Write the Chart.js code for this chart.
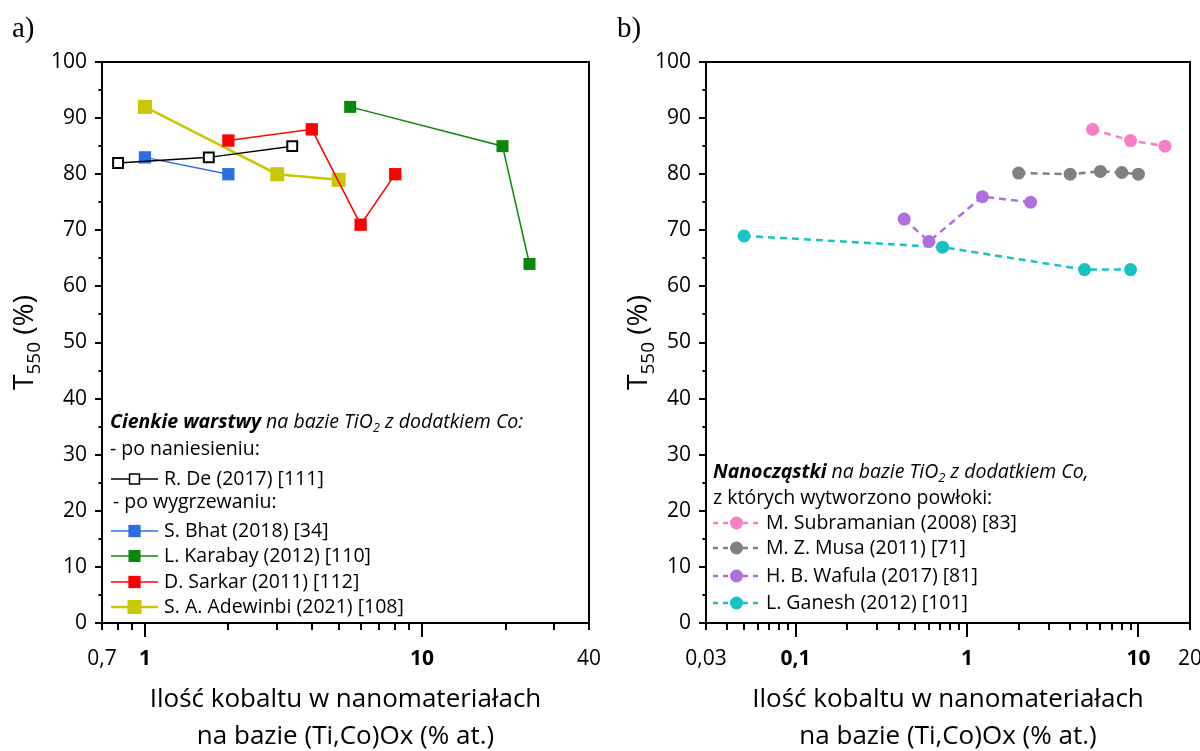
<!DOCTYPE html>
<html><head><meta charset="utf-8">
<script src="https://cdn.jsdelivr.net/npm/chart.js@4/dist/chart.umd.min.js"></script>
<style>
body{margin:0;background:#fff;width:1200px;height:751px;position:relative;overflow:hidden}
canvas{position:absolute;top:0}
</style></head>
<body>
<canvas id="ca" width="600" height="751" style="left:0"></canvas>
<canvas id="cb" width="600" height="751" style="left:600px"></canvas>
<script>
// ---------- Panel a) : thin films ----------
const deX  = [0.8, 1.7, 3.4];        const deY  = [82, 83, 85];
const bhatX = [1, 2];                const bhatY = [83, 80];
const karX = [5.5, 19.5, 24.4];      const karY = [92, 85, 64];
const sarX = [2, 4, 6, 8];           const sarY = [86, 88, 71, 80];
const adeX = [1, 3, 5];              const adeY = [92, 80, 79];
const aLabels = ['R. De (2017) [111]', 'S. Bhat (2018) [34]', 'L. Karabay (2012) [110]', 'D. Sarkar (2011) [112]', 'S. A. Adewinbi (2021) [108]'];

// ---------- Panel b) : nanoparticles ----------
const subX = [5.4, 9, 14.3];         const subY = [88, 86, 85];
const musX = [2, 4, 6, 8, 10];       const musY = [80.2, 80, 80.5, 80.3, 80];
const wafX = [0.43, 0.6, 1.23, 2.35]; const wafY = [72, 68, 76, 75];
const ganX = [0.05, 0.72, 4.85, 9];  const ganY = [69, 67, 63, 63];
const bLabels = ['M. Subramanian (2008) [83]', 'M. Z. Musa (2011) [71]', 'H. B. Wafula (2017) [81]', 'L. Ganesh (2012) [101]'];

// ---------- ticks ----------
const aXTickLabels = [0.7, 1, 10, 40];
const aXBold = [1, 10];
const aXMajor = [1, 10];
const aXMinor = [0.7, 0.8, 0.9, 2, 3, 4, 5, 6, 7, 8, 9, 20, 30, 40];
const bXTickLabels = [0.03, 0.1, 1, 10, 20];
const bXBold = [0.1, 1, 10];
const bXMajor = [0.1, 1, 10];
const bXMinor = [0.03, 0.04, 0.05, 0.06, 0.07, 0.08, 0.09, 0.2, 0.3, 0.4, 0.5, 0.6, 0.7, 0.8, 0.9, 2, 3, 4, 5, 6, 7, 8, 9, 20];
const yMajor = [0, 10, 20, 30, 40, 50, 60, 70, 80, 90, 100];
const yMinor = [5, 15, 25, 35, 45, 55, 65, 75, 85, 95];

const FONT = "'Open Sans'";
const LEG = 19.5;
const pts = (xs, ys) => xs.map((x, i) => ({x: x, y: ys[i]}));
const fmt = v => String(v).replace('.', ',');

function sq(label, xs, ys, color, r, lw) {
  return {label, data: pts(xs, ys), borderColor: color, backgroundColor: color,
    pointBackgroundColor: color, pointBorderColor: color, pointBorderWidth: 0,
    pointStyle: 'rect', pointRadius: r, borderWidth: lw, tension: 0};
}
function circ(label, xs, ys, color) {
  return {label, data: pts(xs, ys), borderColor: color, backgroundColor: color,
    pointBackgroundColor: color, pointBorderWidth: 0, pointStyle: 'circle',
    pointRadius: 6.5, borderWidth: 2.5, borderDash: [7, 5], tension: 0};
}

const decor = {
  id: 'decor',
  afterDraw(chart, args, o) {
    const ctx = chart.ctx, ca = chart.chartArea, xs = chart.scales.x, ys = chart.scales.y;
    ctx.save();
    ctx.strokeStyle = '#000'; ctx.lineWidth = 2; ctx.lineCap = 'butt';
    ctx.strokeRect(ca.left, ca.top, ca.right - ca.left, ca.bottom - ca.top);
    ctx.beginPath();
    yMajor.forEach(v => { const p = Math.round(ys.getPixelForValue(v)); ctx.moveTo(ca.left, p); ctx.lineTo(ca.left - 7, p); });
    yMinor.forEach(v => { const p = Math.round(ys.getPixelForValue(v)); ctx.moveTo(ca.left, p); ctx.lineTo(ca.left - 3.5, p); });
    o.xMajor.forEach(v => { const p = Math.round(xs.getPixelForValue(v)); ctx.moveTo(p, ca.bottom); ctx.lineTo(p, ca.bottom + 14); });
    o.xMinor.forEach(v => { const p = Math.round(xs.getPixelForValue(v)); ctx.moveTo(p, ca.bottom); ctx.lineTo(p, ca.bottom + 7); });
    ctx.stroke();

    // panel letter
    ctx.fillStyle = '#000';
    ctx.font = "29px 'Liberation Serif'";
    ctx.textBaseline = 'alphabetic'; ctx.textAlign = 'left';
    ctx.fillText(o.letter, o.letterX, 37);

    // x title
    ctx.font = '26px ' + FONT; ctx.textAlign = 'center'; ctx.textBaseline = 'middle';
    const cx = (ca.left + ca.right) / 2;
    ctx.fillText('Ilość kobaltu w nanomateriałach', cx, 700);
    ctx.fillText('na bazie (Ti,Co)Ox (% at.)', cx, 737);

    // y title (rotated)
    ctx.save();
    ctx.translate(ca.left - o.yTitleOff, (ca.top + ca.bottom) / 2);
    ctx.rotate(-Math.PI / 2);
    const parts = [{t: 'T', f: '28px ' + FONT, dy: 0}, {t: '550', f: '19px ' + FONT, dy: 7}, {t: ' (%)', f: '28px ' + FONT, dy: 0}];
    let w = 0; parts.forEach(p => { ctx.font = p.f; w += ctx.measureText(p.t).width; });
    let x = -w / 2; ctx.textAlign = 'left'; ctx.textBaseline = 'alphabetic';
    parts.forEach(p => { ctx.font = p.f; ctx.fillText(p.t, x, 10 + p.dy); x += ctx.measureText(p.t).width; });
    ctx.restore();

    // legend
    const L = o.legend;
    L.rows.forEach(row => {
      if (row.segs) {
        let tx = row.x;
        ctx.textAlign = 'left'; ctx.textBaseline = 'middle';
        row.segs.forEach(s => {
          ctx.font = (s.style || '') + ' ' + (s.sub ? 13 : LEG) + 'px ' + FONT;
          ctx.fillText(s.t, tx, row.y + (s.sub ? 6 : 0));
          tx += ctx.measureText(s.t).width;
        });
      } else {
        const ds = chart.data.datasets[row.ds];
        ctx.save();
        ctx.strokeStyle = ds.borderColor; ctx.lineWidth = ds.borderWidth;
        ctx.setLineDash(ds.borderDash ? [5, 5] : []);
        ctx.beginPath(); ctx.moveTo(L.x1, row.y); ctx.lineTo(L.x2, row.y); ctx.stroke();
        ctx.setLineDash([]);
        ctx.fillStyle = ds.pointBackgroundColor; ctx.strokeStyle = ds.pointBorderColor || ds.borderColor;
        Chart.helpers.drawPoint(ctx, {pointStyle: ds.pointStyle, rotation: 0, radius: ds.pointRadius, borderWidth: ds.pointBorderWidth}, (L.x1 + L.x2) / 2, row.y);
        ctx.restore();
        ctx.fillStyle = '#000'; ctx.font = LEG + 'px ' + FONT; ctx.textAlign = 'left'; ctx.textBaseline = 'middle';
        ctx.fillText(ds.label, L.tx, row.y);
      }
    });
    ctx.restore();
  }
};

function makeChart(id, datasets, xMin, xMax, tickLabels, bold, yW, padRight, pluginOpts) {
  return new Chart(document.getElementById(id), {
    type: 'line',
    data: {datasets},
    options: {
      responsive: false, animation: false, devicePixelRatio: 1,
      layout: {padding: {left: 0, top: 62, right: padRight, bottom: 0}},
      plugins: {legend: {display: false}, tooltip: {enabled: false}, decor: pluginOpts},
      scales: {
        x: {type: 'logarithmic', min: xMin, max: xMax,
          grid: {display: true, drawOnChartArea: false, drawTicks: true, tickLength: 14, tickColor: 'rgba(0,0,0,0)', color: 'rgba(0,0,0,0)'},
          border: {display: false},
          afterBuildTicks: s => { s.ticks = tickLabels.map(v => ({value: v})); },
          afterFit: s => { s.height = 128; s.paddingLeft = 0; s.paddingRight = 0; },
          ticks: {autoSkip: false, maxRotation: 0, padding: 9, color: '#000',
            callback: (v, i, t) => fmt(t[i].value),
            font: c => ({family: FONT, size: 21, weight: (c.tick && bold.includes(c.tick.value)) ? 'bold' : 'normal'})}
        },
        y: {type: 'linear', min: 0, max: 100,
          grid: {display: true, drawOnChartArea: false, drawTicks: true, tickLength: 7, tickColor: 'rgba(0,0,0,0)', color: 'rgba(0,0,0,0)'},
          border: {display: false},
          afterFit: s => { s.width = yW; s.paddingTop = 0; s.paddingBottom = 0; },
          ticks: {stepSize: 10, padding: 8, color: '#000', font: {family: FONT, size: 21}}
        }
      }
    },
    plugins: [decor]
  });
}

const dsA = [
  Object.assign(sq(aLabels[0], deX, deY, '#000000', 7, 1.5), {pointBackgroundColor: '#ffffff', pointBorderColor: '#000000', pointBorderWidth: 2}),
  sq(aLabels[1], bhatX, bhatY, '#2d6fe3', 8.7, 1.5),
  sq(aLabels[2], karX, karY, '#0b870b', 8.5, 1.5),
  sq(aLabels[3], sarX, sarY, '#ff0000', 8.7, 1.5),
  sq(aLabels[4], adeX, adeY, '#c8c805', 9.9, 2.5)
];
const dsB = [
  circ(bLabels[0], subX, subY, '#f77fc6'),
  circ(bLabels[1], musX, musY, '#808080'),
  circ(bLabels[2], wafX, wafY, '#b06fdf'),
  circ(bLabels[3], ganX, ganY, '#18c3c3')
];

makeChart('ca', dsA, 0.7, 40, aXTickLabels, aXBold, 102, 11, {
  letter: 'a)', letterX: 12, yTitleOff: 79, xMajor: aXMajor, xMinor: aXMinor,
  legend: {x1: 111, x2: 158, tx: 164, rows: [
    {x: 110, y: 422, segs: [{t: 'Cienkie warstwy', style: 'italic bold'}, {t: ' na bazie TiO', style: 'italic'}, {t: '2', style: 'italic', sub: true}, {t: ' z dodatkiem Co:', style: 'italic'}]},
    {x: 110, y: 449, segs: [{t: '- po naniesieniu:'}]},
    {ds: 0, y: 479},
    {x: 113, y: 502, segs: [{t: '- po wygrzewaniu:'}]},
    {ds: 1, y: 531},
    {ds: 2, y: 556},
    {ds: 3, y: 582},
    {ds: 4, y: 607}
  ]}
});
makeChart('cb', dsB, 0.03, 20, bXTickLabels, bXBold, 106, 10, {
  letter: 'b)', letterX: 17, yTitleOff: 69, xMajor: bXMajor, xMinor: bXMinor,
  legend: {x1: 113, x2: 160, tx: 166, rows: [
    {x: 113, y: 472, segs: [{t: 'Nanocząstki', style: 'italic bold'}, {t: ' na bazie TiO', style: 'italic'}, {t: '2', style: 'italic', sub: true}, {t: ' z dodatkiem Co,', style: 'italic'}]},
    {x: 113, y: 498, segs: [{t: 'z których wytworzono powłoki:'}]},
    {ds: 0, y: 523},
    {ds: 1, y: 548},
    {ds: 2, y: 576},
    {ds: 3, y: 603}
  ]}
});
</script>
</body></html>
